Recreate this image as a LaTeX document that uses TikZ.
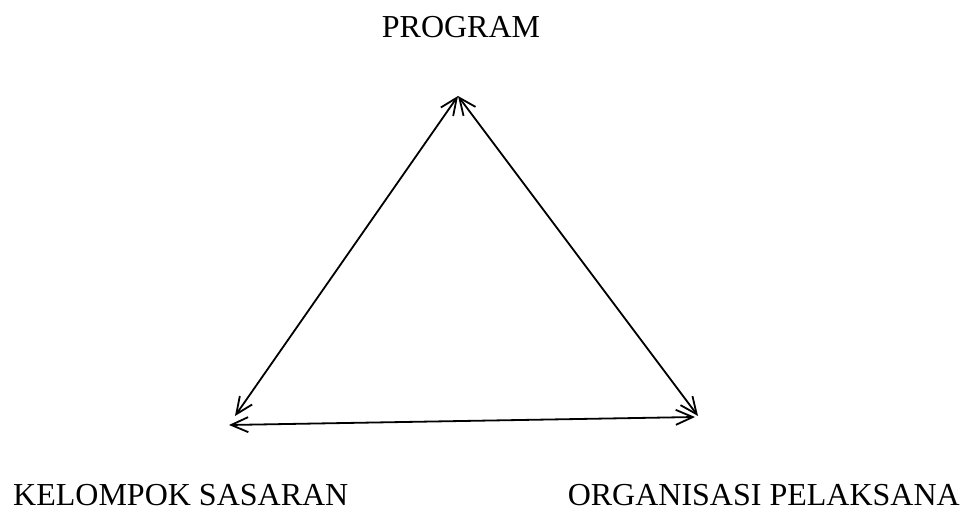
\documentclass[tikz,border=0pt]{standalone}
\usepackage{fontspec}
\setmainfont{Liberation Serif}
\usetikzlibrary{arrows.meta}

\tikzset{
    label/.style={inner sep=0pt, font=\fontsize{32}{36}\selectfont},
    link/.style={{Straight Barb[length=17pt,width=15pt]}-{Straight Barb[length=17pt,width=15pt]}, line width=1.8pt}
}

\begin{document}
\begin{tikzpicture}[x=1pt, y=1pt]
        \useasboundingbox (0,0) rectangle (969,511);

        % labels
        \node [label, anchor=base] (program) at (461, 473) {PROGRAM};
        \node [label, anchor=base west] (sasaran) at (13, 5) {KELOMPOK SASARAN};
        \node [label, anchor=base east] (pelaksana) at (960, 5) {ORGANISASI PELAKSANA};

        % corners
        \coordinate (atas) at (458, 415);
        \coordinate (kiri) at (235, 95);
        \coordinate (kiribawah) at (229, 86);
        \coordinate (kanan) at (698, 95);
        \coordinate (kananbawah) at (695, 94);

        % triangle
        \draw [link] (atas) -- (kiri);
        \draw [link] (atas) -- (kanan);
        \draw [link] (kiribawah) -- (kananbawah);
    \end{tikzpicture}
\end{document}
